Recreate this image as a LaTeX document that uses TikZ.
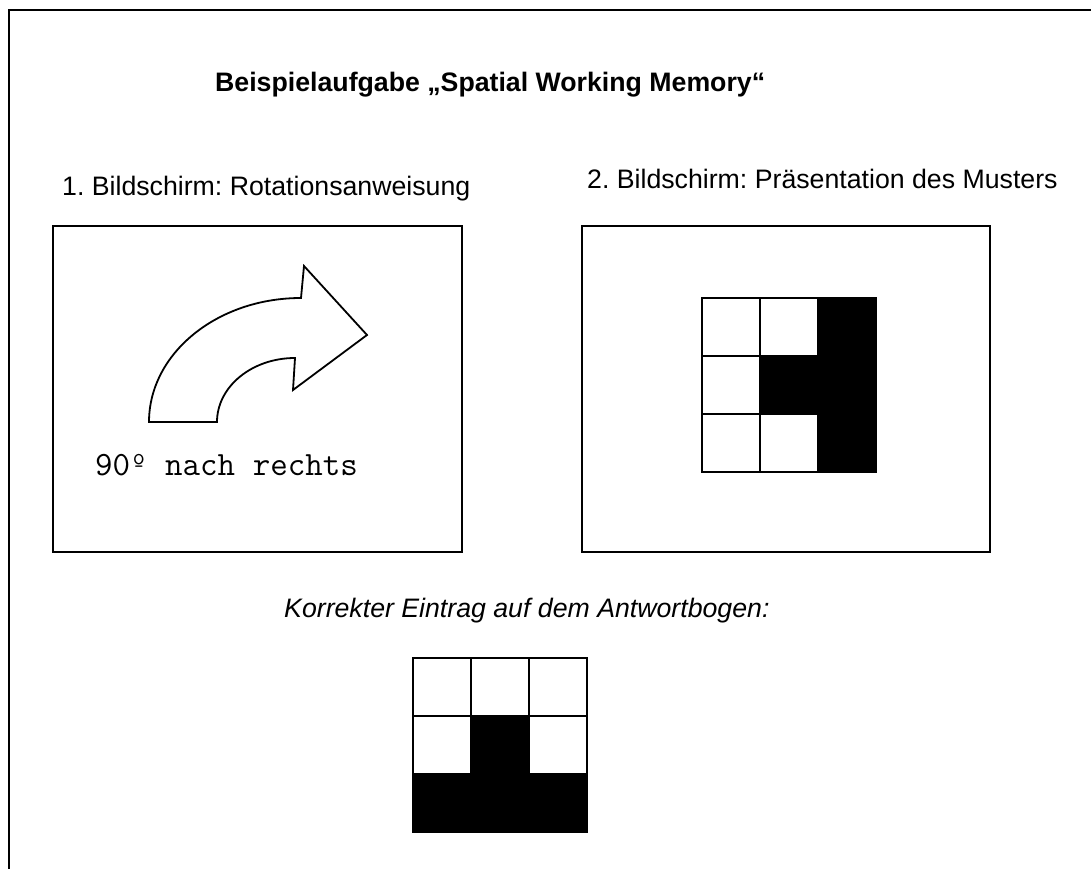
\documentclass[tikz,border=0pt]{standalone}
\usepackage{fontspec}
\setmainfont{Liberation Sans}
\frenchspacing
\begin{document}
\begin{tikzpicture}[x=1pt,y=-1pt,
  frameline/.style={line width=2.6pt, line cap=rect},
  screen/.style={draw, line width=2pt},
  gridline/.style={draw, line width=2pt},
  label/.style={inner sep=0pt, anchor=base west, font=\fontsize{26.7}{32}\selectfont},
  arrowshape/.style={draw, line width=1.8pt, line join=miter, fill=white}]
\useasboundingbox (0,0) rectangle (1091,869);

% page frame (top and left edges)
\draw[frameline] (9,900) -- (9,10) -- (1100,10);

% heading and captions
\node[label, font=\fontsize{26.7}{32}\selectfont\bfseries] (title) at (215,92) {Beispielaufgabe „Spatial Working Memory“};
\node[label] (cap1) at (62,195) {1. Bildschirm: Rotationsanweisung};
\node[label] (cap2) at (587,188) {2. Bildschirm: Präsentation des Musters};
\node[label, font=\fontsize{26.7}{32}\selectfont\itshape] (cap3) at (284,617) {Korrekter Eintrag auf dem Antwortbogen:};

% screen 1: rotation instruction
\draw[screen] (53,226) rectangle (462,552);
\draw[arrowshape] (149,422) -- (217,422)
  arc[start angle=180, end angle=270, x radius=78, y radius=64]
  -- (293,390) -- (367,335) -- (304,266) -- (301,298)
  arc[start angle=270, end angle=180, x radius=152, y radius=124]
  -- cycle;
\node[inner sep=0pt, anchor=base west, font=\fontsize{34}{39}\selectfont\ttfamily] (rot) at (95,475) {90º nach rechts};

% screen 2: pattern
\draw[screen] (582,226) rectangle (990,552);
\begin{scope}[shift={(702,298)}]
  \fill (116,0) rectangle (174,174);
  \fill (58,58) rectangle (116,116);
  \foreach \k in {58,116} {
    \draw[gridline] (\k,0) -- (\k,174);
    \draw[gridline] (0,\k) -- (174,\k);
  }
  \draw[gridline] (0,0) rectangle (174,174);
\end{scope}

% answer sheet entry
\begin{scope}[shift={(413,658)}]
  \fill (0,116) rectangle (174,174);
  \fill (58,58) rectangle (116,116);
  \foreach \k in {58,116} {
    \draw[gridline] (\k,0) -- (\k,174);
    \draw[gridline] (0,\k) -- (174,\k);
  }
  \draw[gridline] (0,0) rectangle (174,174);
\end{scope}
\end{tikzpicture}
\end{document}
